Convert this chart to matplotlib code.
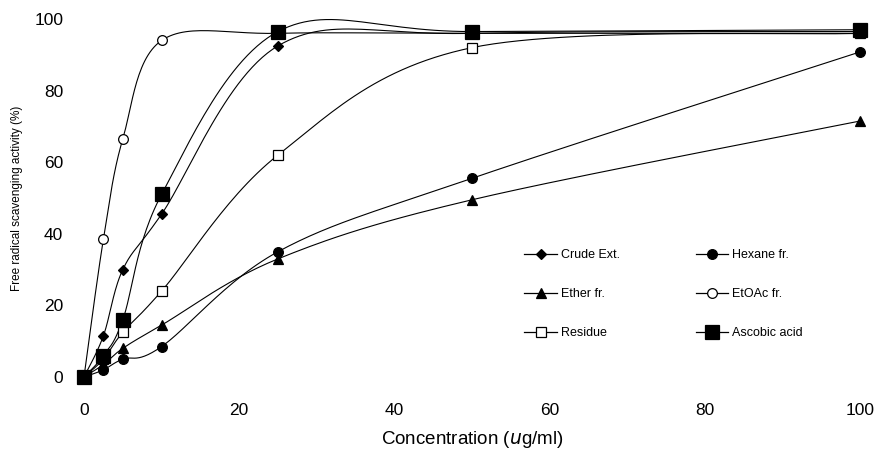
import numpy as np
import matplotlib
matplotlib.use("Agg")
import matplotlib.pyplot as plt

plt.rcParams["font.family"] = ["Liberation Sans", "DejaVu Sans"]

conc = [0, 2.5, 5, 10, 25, 50, 100]
crude = [0, 11.5, 30, 45.5, 92.5, 96, 96.5]
hexane = [0, 2, 5, 8.5, 35, 55.5, 90.8]
ether = [0, 3.5, 8, 14.5, 33, 49.5, 71.5]
etoac = [0, 38.5, 66.5, 94, 96, 96, 96]
residue = [0, 5, 12.5, 24, 62, 92, 96]
ascorbic = [0, 6, 16, 51, 96.5, 96.5, 97]

labels = ["Crude Ext.", "Hexane fr.", "Ether fr.", "EtOAc fr.", "Residue", "Ascobic acid"]
xticks = [0, 20, 40, 60, 80, 100]
yticks = [0, 20, 40, 60, 80, 100]

W, H = 879, 453
fig = plt.figure(figsize=(W / 100, H / 100), dpi=100)
ax = fig.add_axes([84 / W, 1 - 377 / H, (860 - 84) / W, (377 - 19) / H])
ax.set_xlim(0, 100)
ax.set_ylim(0, 100)

sx, sy = 7.76, 3.58  # pixel per unit for smoothing in screen space


def smooth(xs, ys, n=30):
    P = np.column_stack([np.asarray(xs, float) * sx, np.asarray(ys, float) * sy])
    out = [P[0]]
    m = len(P)
    for i in range(m - 1):
        p0 = P[i - 1] if i > 0 else P[i]
        p1 = P[i]
        p2 = P[i + 1]
        p3 = P[i + 2] if i + 2 < m else P[i + 1]
        c1 = p1 + (p2 - p0) / 6
        c2 = p2 - (p3 - p1) / 6
        t = np.linspace(0, 1, n)[1:, None]
        seg = (1 - t) ** 3 * p1 + 3 * (1 - t) ** 2 * t * c1 + 3 * (1 - t) * t ** 2 * c2 + t ** 3 * p2
        out.extend(seg)
    out = np.array(out)
    return out[:, 0] / sx, out[:, 1] / sy


series = [
    (crude, dict(marker="D", ms=5.5, mfc="black")),
    (hexane, dict(marker="o", ms=7, mfc="black")),
    (ether, dict(marker="^", ms=7, mfc="black")),
    (etoac, dict(marker="o", ms=7, mfc="white")),
    (residue, dict(marker="s", ms=7, mfc="white")),
    (ascorbic, dict(marker="s", ms=10, mfc="black")),
]

handles = []
for (ys, st), lab in zip(series, labels):
    xs_s, ys_s = smooth(conc, ys)
    ax.plot(xs_s, ys_s, color="black", lw=0.8, clip_on=False, zorder=2)
    ax.plot(conc, ys, linestyle="none", color="black", mec="black", mew=0.9,
            clip_on=False, zorder=3, **st)
    h, = ax.plot([], [], color="black", lw=0.9, mec="black", mew=0.9, label=lab, **st)
    handles.append(h)

for s in ax.spines.values():
    s.set_visible(False)
ax.tick_params(length=0, labelsize=12.5)
ax.tick_params(axis="x", pad=19)
ax.tick_params(axis="y", pad=15)
ax.set_xticks(xticks)
ax.set_yticks(yticks)
ax.set_xlabel("Concentration ($\\it{u}$g/ml)", fontsize=13.5, labelpad=8)
ax.set_ylabel("Free radical scavenging activity (%)", fontsize=8.5, labelpad=8)

order = [0, 2, 4, 1, 3, 5]
ax.legend([handles[i] for i in order], [labels[i] for i in order], ncol=2,
          frameon=False, fontsize=9, loc="lower left", bbox_to_anchor=(0.553, 0.075),
          labelspacing=2.15, columnspacing=6.1, handlelength=2.6, handletextpad=0.3)

fig.savefig("out.png", dpi=100)
